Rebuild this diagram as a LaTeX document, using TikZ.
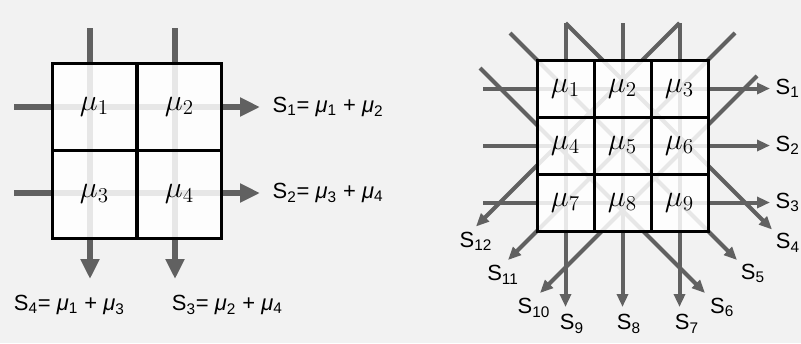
\documentclass[tikz,border=0pt]{standalone}
\usepackage{amsmath}
\usepackage{fontspec}
\usepackage{xcolor}
\usepackage{tikz}
\usetikzlibrary{positioning, arrows.meta}
\newfontfamily\sumfont{Liberation Sans}
\newcommand{\Ssub}[1]{S\textsubscript{#1}}
\newcommand{\musub}[1]{\textit{μ}\textsubscript{#1}}

\begin{document}
\begin{tikzpicture}[x=0.02cm, y=-0.02cm,
  bigray/.style={draw=black!62, line width=0.13cm, -{Triangle[length=0.4cm, width=0.36cm]}},
  smallray/.style={draw=black!62, line width=0.08cm, -{Triangle[length=0.26cm, width=0.22cm]}},
  lcell/.style={draw, line width=0.06cm, fill=white, fill opacity=0.85, text opacity=1,
    minimum width=1.7cm, minimum height=1.75cm, inner sep=0pt, font=\fontsize{18}{20}\selectfont},
  rcell/.style={draw, line width=0.06cm, fill=white, fill opacity=0.85, text opacity=1,
    minimum size=1.14cm, inner sep=0pt, font=\fontsize{18}{20}\selectfont},
  sumlab/.style={font=\sumfont\fontsize{12.5}{14}\selectfont, inner sep=2pt}]

  \fill[black!5] (0,0) rectangle (801,343);
  \useasboundingbox (0,0) rectangle (801,343);

  % left: 2 x 2 grid
  \foreach \y/\i in {107/1, 193/2} {
    \coordinate (Lw\i) at (14,\y);
    \coordinate (Le\i) at (260,\y);
    \draw[bigray] (Lw\i) -- (Le\i);
  }
  \foreach \x/\i in {90/1, 175/2} {
    \coordinate (Ln\i) at (\x,28);
    \coordinate (Ls\i) at (\x,279);
    \draw[bigray] (Ln\i) -- (Ls\i);
  }

  \node[lcell] (a1) at (94.5,106.75) {$\mu_1$};
  \node[lcell] (a2) at (179.5,106.75) {$\mu_2$};
  \node[lcell] (a3) at (94.5,194.25) {$\mu_3$};
  \node[lcell] (a4) at (179.5,194.25) {$\mu_4$};

  \node[sumlab, right=5pt of Le1] (ls1) {\Ssub{1}= \musub{1} + \musub{2}};
  \node[sumlab, right=5pt of Le2] (ls2) {\Ssub{2}= \musub{3} + \musub{4}};
  \node[sumlab, anchor=west] (ls4) at (10,305) {\Ssub{4}= \musub{1} + \musub{3}};
  \node[sumlab, anchor=west] (ls3) at (168,305) {\Ssub{3}= \musub{2} + \musub{4}};

  % right: 3 x 3 grid with rows, columns and diagonals
  \foreach \y/\i in {88.5/1, 145.5/2, 202.5/3} {
    \coordinate (Rw\i) at (483,\y);
    \coordinate (Re\i) at (770,\y);
    \draw[smallray] (Rw\i) -- (Re\i);
  }
  \foreach \x/\i in {565.5/9, 622.5/8, 679.5/7} {
    \coordinate (Rn\i) at (\x,23);
    \coordinate (Rs\i) at (\x,307);
    \draw[smallray] (Rn\i) -- (Rs\i);
  }
  \coordinate (Dn4) at (565.5,23);  \coordinate (Ds4) at (772,229.5);
  \coordinate (Dn5) at (510,33);    \coordinate (Ds5) at (737,260);
  \coordinate (Dn6) at (480,68);    \coordinate (Ds6) at (705,293);
  \coordinate (Dn10) at (757,76);   \coordinate (Ds10) at (540,293);
  \coordinate (Dn11) at (735,33);   \coordinate (Ds11) at (508,260);
  \coordinate (Dn12) at (679.5,23); \coordinate (Ds12) at (476,226.5);
  \foreach \i in {4,5,6,10,11,12}
    \draw[smallray] (Dn\i) -- (Ds\i);

  \foreach \n [count=\k from 0] in {1,...,9} {
    \pgfmathtruncatemacro{\col}{mod(\k,3)}
    \pgfmathtruncatemacro{\row}{div(\k,3)}
    \node[rcell] (b\n) at ({565.5+57*\col},{88.5+57*\row}) {$\mu_{\n}$};
  }

  \node[sumlab, right=1pt of Re1] (rs1) {\Ssub{1}};
  \node[sumlab, right=1pt of Re2] (rs2) {\Ssub{2}};
  \node[sumlab, right=1pt of Re3] (rs3) {\Ssub{3}};
  \node[sumlab, below right=0pt of Ds4] (rs4) {\Ssub{4}};
  \node[sumlab, below right=0pt of Ds5] (rs5) {\Ssub{5}};
  \node[sumlab, below right=1pt of Ds6] (rs6) {\Ssub{6}};
  \node[sumlab, below=2pt of Rs7, xshift=0.15cm] (rs7) {\Ssub{7}};
  \node[sumlab, below=2pt of Rs8, xshift=0.13cm] (rs8) {\Ssub{8}};
  \node[sumlab, below=2pt of Rs9, xshift=0.13cm] (rs9) {\Ssub{9}};
  \node[sumlab, below=1pt of Ds10, xshift=-0.12cm] (rs10) {\Ssub{10}};
  \node[sumlab, below=1pt of Ds11, xshift=-0.1cm] (rs11) {\Ssub{11}};
  \node[sumlab, below=1pt of Ds12] (rs12) {\Ssub{12}};
\end{tikzpicture}
\end{document}
